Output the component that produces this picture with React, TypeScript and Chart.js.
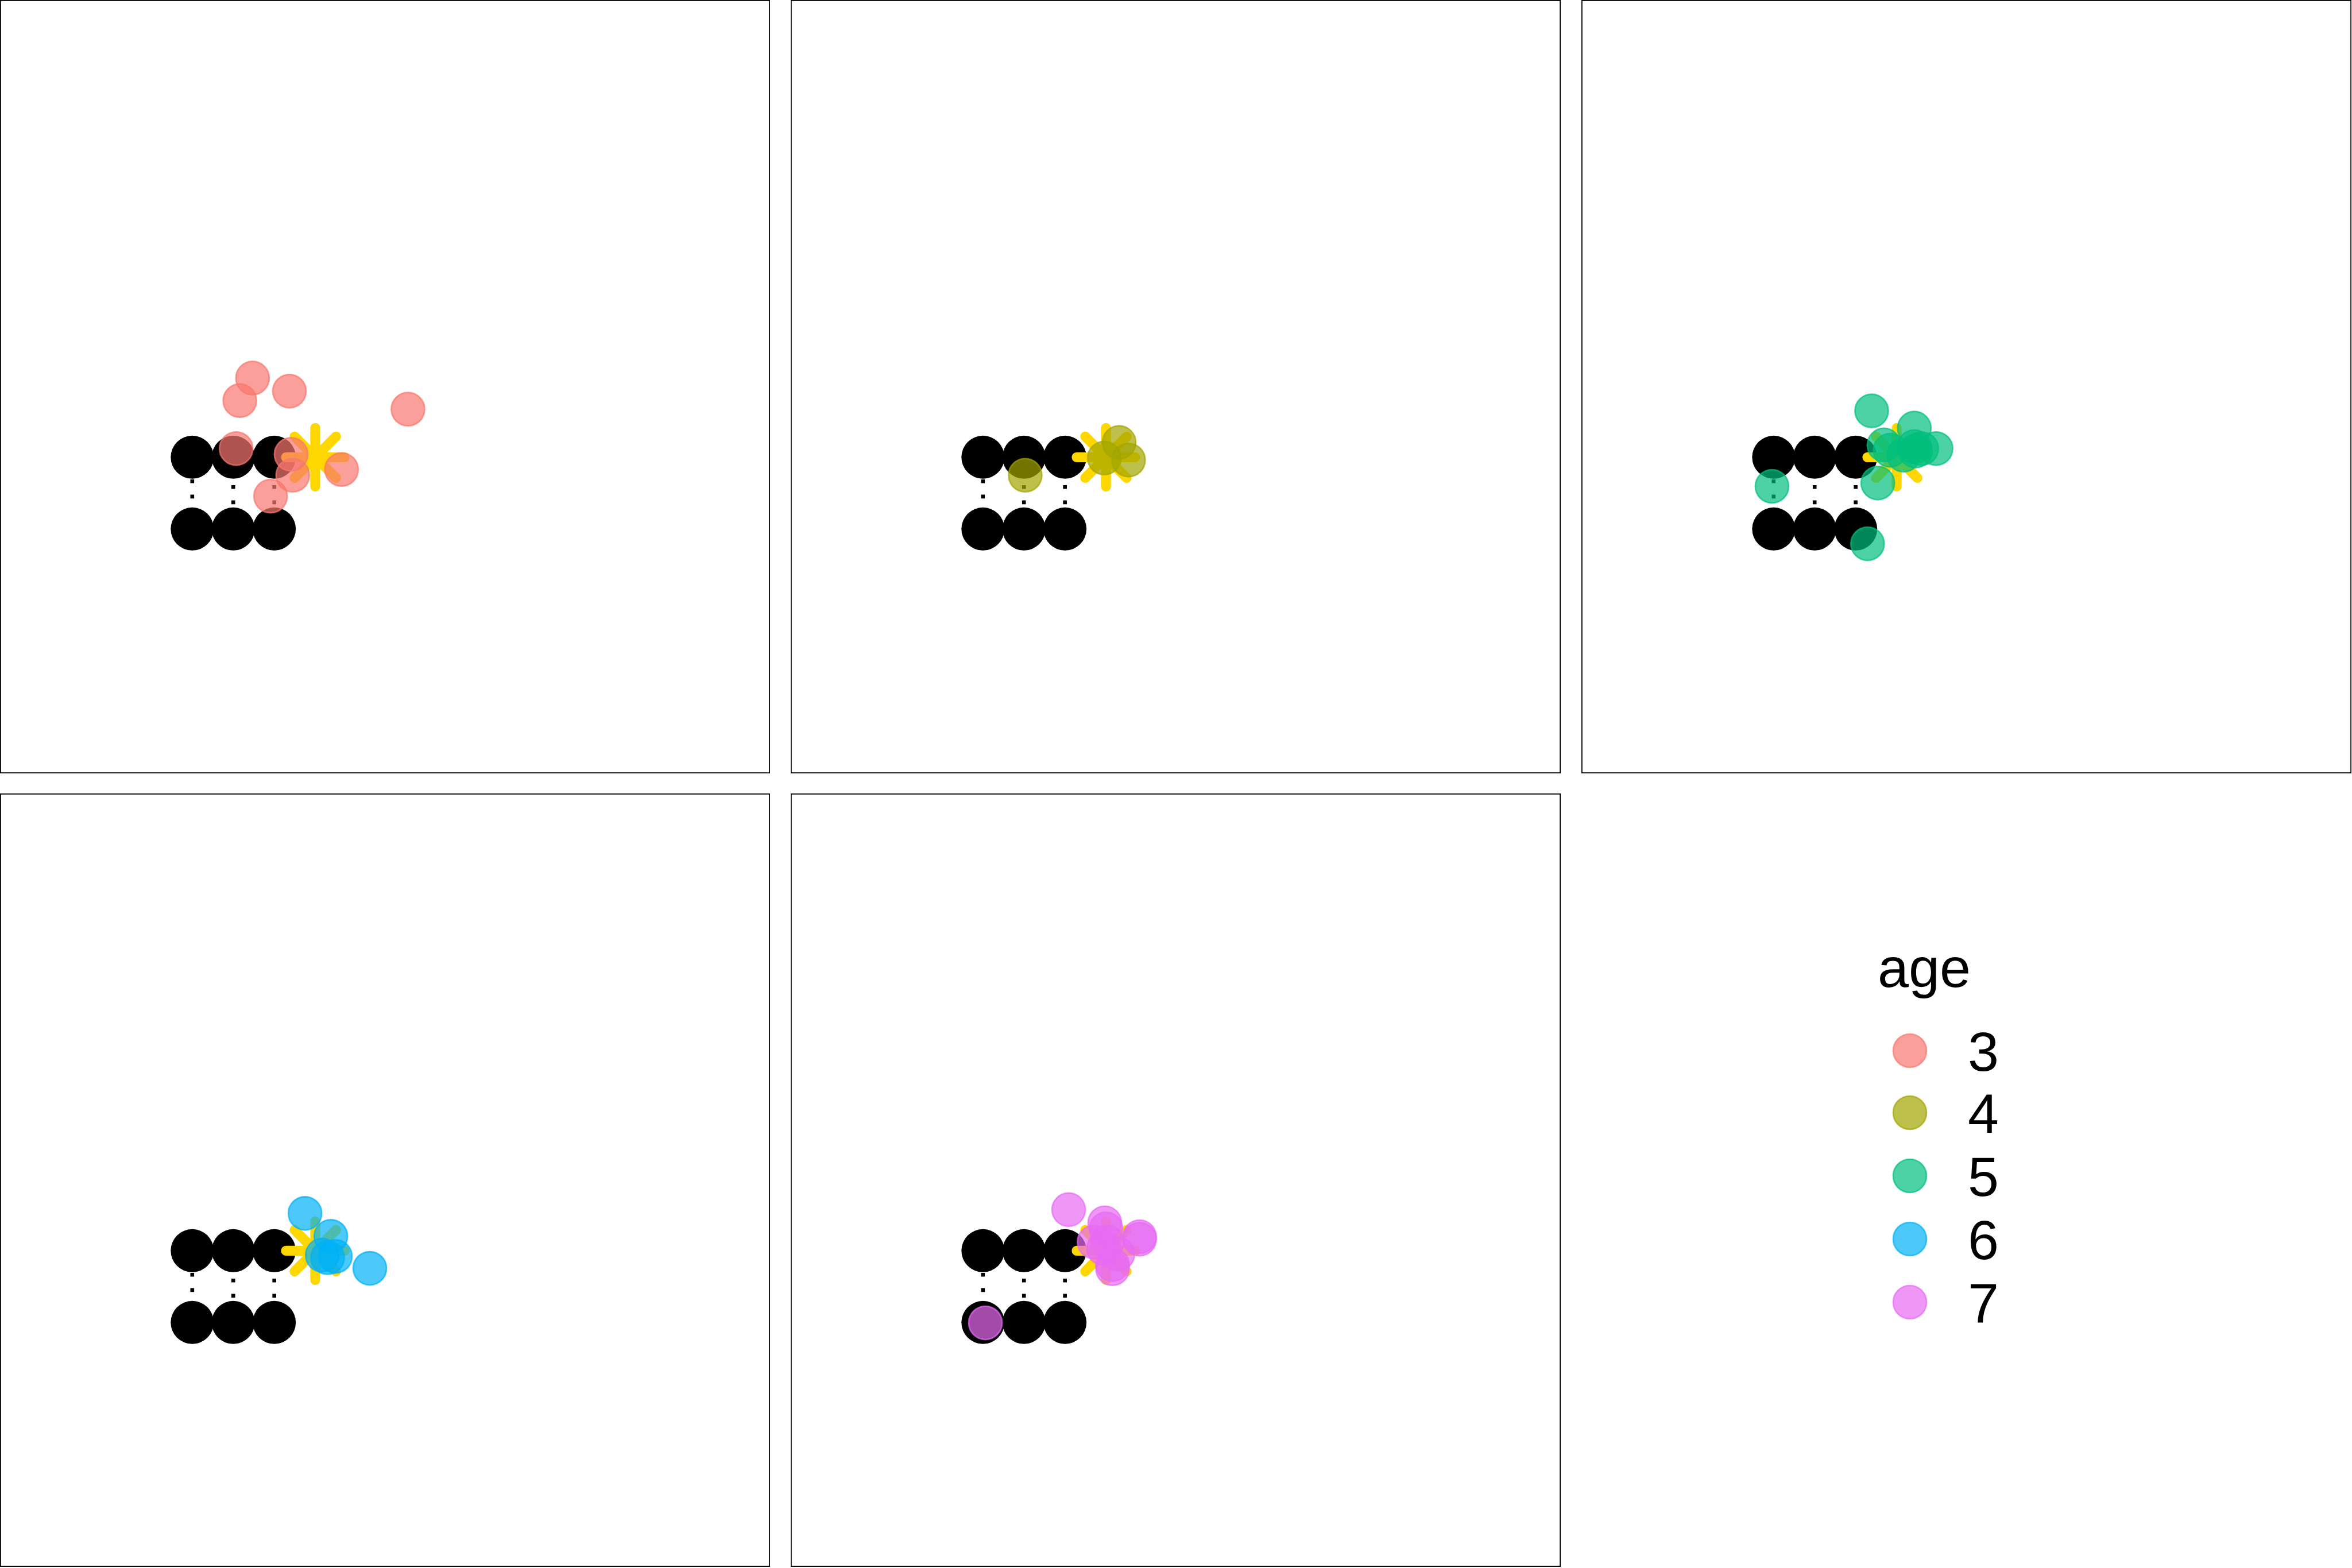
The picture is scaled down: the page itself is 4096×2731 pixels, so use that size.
import React, { useEffect, useRef } from "react";
import { Chart, registerables } from "chart.js";

Chart.register(...registerables);

// ---- data ----
const AGES = ["3", "4", "5", "6", "7"];
const AGE_COLORS = ["#F8766D", "#A3A500", "#00BF7D", "#00B0F6", "#E76BF3"];

// fixed layout of the black targets (3 columns x 2 rows)
const GRID_X = [1, 2, 3, 1, 2, 3];
const GRID_Y = [1.75, 1.75, 1.75, 0, 0, 0];
const COLUMN_X = [1, 2, 3];
const ROW_TOP = 1.75;
const ROW_BOTTOM = 0;
// yellow star (goal)
const STAR_X = [4];
const STAR_Y = [1.75];

// responses per age
const AGE3_X = [2.47, 2.16, 3.37, 6.26, 2.07, 3.41, 3.45, 4.64, 2.91];
const AGE3_Y = [3.68, 3.13, 3.36, 2.92, 1.96, 1.82, 1.31, 1.45, 0.8];
const AGE4_X = [2.03, 3.96, 4.32, 4.55];
const AGE4_Y = [1.31, 1.73, 2.11, 1.68];
const AGE5_X = [3.39, 0.96, 3.54, 3.29, 4.43, 4.96, 3.69, 3.84, 4.17, 4.43, 4.61, 4.46];
const AGE5_Y = [2.88, 1.04, 1.12, -0.36, 2.46, 1.96, 2.05, 1.92, 1.8, 2.01, 1.96, 1.9];
const AGE6_X = [3.75, 4.38, 4.17, 4.49, 4.3, 5.33];
const AGE6_Y = [2.66, 2.1, 1.64, 1.61, 1.58, 1.32];
const AGE7_X = [3.09, 1.06, 3.97, 4.0, 4.82, 4.82, 3.71, 4.16, 4.16, 4.29, 3.94, 4.03];
const AGE7_Y = [2.75, -0.01, 2.43, 2.28, 2.09, 2.03, 1.96, 1.31, 1.41, 1.67, 1.8, 1.96];

const AGE_XS = [AGE3_X, AGE4_X, AGE5_X, AGE6_X, AGE7_X];
const AGE_YS = [AGE3_Y, AGE4_Y, AGE5_Y, AGE6_Y, AGE7_Y];

// axis limits shared by every facet
const X_MIN = -3.688;
const X_MAX = 15.089;
const Y_MIN = -5.958;
const Y_MAX = 12.896;

// ---- layout ----
const PANEL_W = 1341;
const PANEL_H = 1347;
const PANEL_LEFTS = [0, 1377, 2754];
const PANEL_TOPS = [0, 1382];

function alpha(hex: string, a: number) {
  const r = parseInt(hex.slice(1, 3), 16);
  const g = parseInt(hex.slice(3, 5), 16);
  const b = parseInt(hex.slice(5, 7), 16);
  return `rgba(${r},${g},${b},${a})`;
}

function pts(xs: number[], ys: number[]) {
  return xs.map((x, i) => ({ x, y: ys[i] }));
}

const borderPlugin = {
  id: "panelBorder",
  afterDraw(chart: any) {
    const ctx = chart.ctx;
    ctx.save();
    ctx.strokeStyle = "#000";
    ctx.lineWidth = 1.8;
    ctx.strokeRect(0.9, 0.9, chart.width - 1.8, chart.height - 1.8);
    ctx.restore();
  },
};

const capPlugin = {
  id: "roundCaps",
  beforeDatasetDraw(chart: any, args: any) {
    const ds = chart.data.datasets[args.index];
    chart.ctx.lineCap = ds.isStar ? "round" : "butt";
  },
  afterDatasetDraw(chart: any) {
    chart.ctx.lineCap = "butt";
  },
};

function Panel({ idx }: { idx: number }) {
  const ref = useRef<HTMLCanvasElement | null>(null);
  useEffect(() => {
    const color = AGE_COLORS[idx];
    const lineDatasets = COLUMN_X.map((cx, i) => ({
      type: "line" as const,
      data:
        i === 0
          ? [
              { x: cx, y: ROW_BOTTOM },
              { x: cx, y: ROW_TOP },
            ]
          : [
              { x: cx, y: ROW_TOP },
              { x: cx, y: ROW_BOTTOM },
            ],
      borderColor: "#000",
      borderWidth: 6.6,
      borderDash: [6.6, 20],
      borderDashOffset: i === 0 ? 0 : 4.5,
      borderCapStyle: "butt" as const,
      pointRadius: 0,
      fill: false,
      tension: 0,
      order: 10,
    }));
    const chart = new Chart(ref.current as HTMLCanvasElement, {
      type: "scatter",
      data: {
        datasets: [
          ...lineDatasets,
          {
            data: pts(GRID_X, GRID_Y),
            pointRadius: 37.5,
            pointBackgroundColor: "#000",
            pointBorderWidth: 0,
            order: 5,
          } as any,
          {
            data: pts(STAR_X, STAR_Y),
            pointStyle: "star",
            pointRadius: 51,
            pointBackgroundColor: "rgba(0,0,0,0)",
            pointBorderColor: "#FFD700",
            pointBorderWidth: 17.3,
            isStar: true,
            order: 3,
          } as any,
          {
            data: pts(AGE_XS[idx], AGE_YS[idx]),
            pointRadius: 29,
            pointBackgroundColor: alpha(color, 0.7),
            pointBorderColor: alpha(color, 0.7),
            pointBorderWidth: 2.7,
            order: 1,
          } as any,
        ],
      },
      options: {
        animation: false,
        responsive: false,
        devicePixelRatio: 1,
        layout: { padding: 0, autoPadding: false },
        events: [],
        scales: {
          x: { type: "linear", display: false, min: X_MIN, max: X_MAX },
          y: { type: "linear", display: false, min: Y_MIN, max: Y_MAX },
        },
        plugins: {
          legend: { display: false },
          tooltip: { enabled: false },
        },
      },
      plugins: [capPlugin, borderPlugin],
    });
    return () => chart.destroy();
  }, [idx]);
  const left = PANEL_LEFTS[idx % 3];
  const top = PANEL_TOPS[Math.floor(idx / 3)];
  return (
    <canvas
      ref={ref}
      width={PANEL_W}
      height={PANEL_H}
      style={{ position: "absolute", left, top, width: PANEL_W, height: PANEL_H }}
    />
  );
}

const FONT = "'Liberation Sans', Arial, Helvetica, sans-serif";
const FS = 97;
const KEY_X = 3326;
const KEY_YS = [1830, 1938, 2048, 2158, 2268];

function Legend() {
  return (
    <>
      <div
        style={{
          position: "absolute",
          left: 3270,
          top: 1719 - 0.8465 * FS,
          fontFamily: FONT,
          fontSize: FS,
          lineHeight: `${FS}px`,
          color: "#000",
          whiteSpace: "nowrap",
        }}
      >
        age
      </div>
      {AGES.map((a, i) => (
        <React.Fragment key={a}>
          <svg
            width={70}
            height={70}
            style={{ position: "absolute", left: KEY_X - 35, top: KEY_YS[i] - 35 }}
          >
            <circle
              cx={35}
              cy={35}
              r={29}
              fill={alpha(AGE_COLORS[i], 0.7)}
              stroke={alpha(AGE_COLORS[i], 0.7)}
              strokeWidth={2.7}
            />
          </svg>
          <div
            style={{
              position: "absolute",
              left: 3427,
              top: KEY_YS[i] + 0.358 * FS - 0.8465 * FS,
              fontFamily: FONT,
              fontSize: FS,
              lineHeight: `${FS}px`,
              color: "#000",
              whiteSpace: "nowrap",
            }}
          >
            {a}
          </div>
        </React.Fragment>
      ))}
    </>
  );
}

export default function App() {
  useEffect(() => {
    document.body.style.margin = "0";
    document.body.style.background = "#fff";
  }, []);
  return (
    <div
      style={{
        position: "absolute",
        left: 0,
        top: 0,
        width: 4096,
        height: 2731,
        background: "#fff",
        overflow: "hidden",
      }}
    >
      {[0, 1, 2, 3, 4].map((i) => (
        <Panel key={i} idx={i} />
      ))}
      <Legend />
    </div>
  );
}
